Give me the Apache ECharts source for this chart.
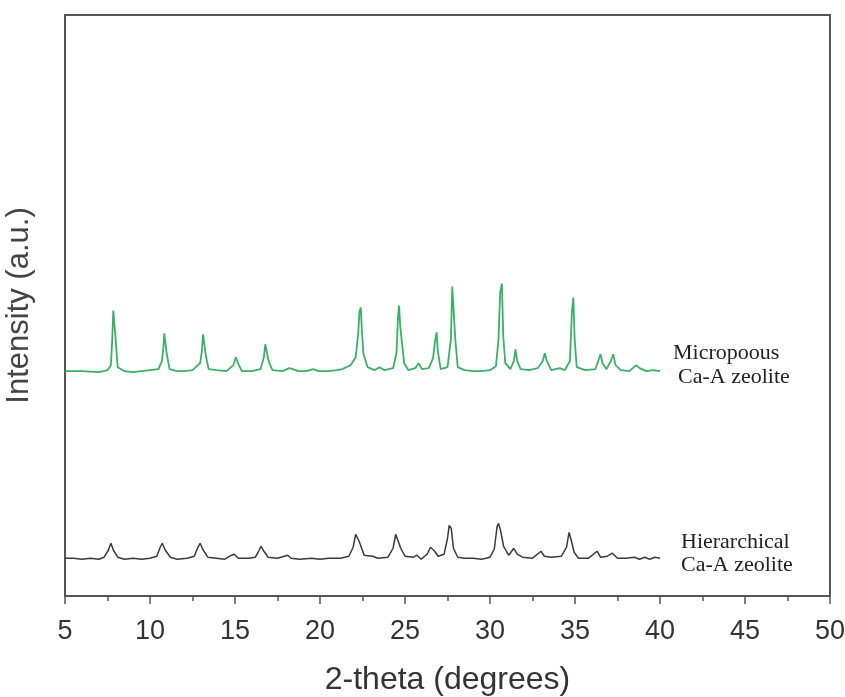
<!DOCTYPE html>
<html>
<head>
<meta charset="utf-8">
<script src="https://cdn.jsdelivr.net/npm/echarts@6/dist/echarts.min.js"></script>
<style>
  html, body { margin: 0; padding: 0; background: #fff; }
  #chart { width: 845px; height: 697px; }
</style>
</head>
<body>
<div id="chart"></div>
<script>
// x axis ticks (2-theta, degrees)
const xTicks = [5, 10, 15, 20, 25, 30, 35, 40, 45, 50]

// Micropoous Ca-A zeolite pattern, [2-theta, intensity a.u.] (offset upward)
const microData = [
  [5,230],[6,230],[7,229],[7.5,231],[7.7,236],[7.78,262],[7.84,291],[7.92,291],[7.98,262],[8.1,234],
  [8.5,230],[9,229],[9.5,230],[10,231],[10.5,232],[10.7,240],[10.78,252],[10.84,268],[10.92,268],[10.98,248],
  [11.15,232],[11.6,230],[12,230],[12.5,231],[12.95,238],[13.05,250],[13.12,267],[13.2,267],[13.28,246],[13.45,232],
  [13.9,231],[14.5,230],[14.9,236],[15.05,244],[15.2,237],[15.4,230],[16,230],[16.5,232],[16.7,244],[16.78,257],
  [16.88,255],[16.98,240],[17.2,231],[17.8,230],[18.2,233],[18.4,232],[18.7,230],[19.2,230],[19.6,232],[19.9,230],
  [20.5,230],[21,231],[21.3,232],[21.8,236],[22.1,244],[22.25,268],[22.32,290],[22.4,294],[22.46,272],[22.55,248],
  [22.8,234],[23.2,231],[23.5,234],[23.8,231],[24.3,233],[24.5,248],[24.58,282],[24.65,296],[24.72,275],[24.8,262],
  [24.88,262],[24.95,238],[25.2,231],[25.6,233],[25.8,238],[26,232],[26.4,233],[26.65,243],[26.78,262],[26.86,269],
  [26.93,250],[27.1,232],[27.5,234],[27.7,262],[27.78,315],[27.88,317],[27.96,262],[28.1,234],[28.5,231],[29,230],
  [29.5,230],[30,231],[30.35,235],[30.5,262],[30.6,310],[30.7,318],[30.78,265],[30.9,238],[31.2,232],[31.4,240],
  [31.5,252],[31.6,240],[31.8,232],[32.3,231],[32.8,233],[33.1,240],[33.22,248],[33.35,240],[33.6,231],[34.1,233],
  [34.4,231],[34.7,240],[34.82,290],[34.9,304],[34.98,262],[35.1,234],[35.6,231],[36.2,232],[36.4,242],[36.5,247],
  [36.62,238],[36.85,232],[37.1,240],[37.25,247],[37.38,236],[37.7,231],[38.2,230],[38.6,236],[38.8,233],[39.2,230],
  [39.6,231],[40,230]
]

// Hierarchical Ca-A zeolite pattern, [2-theta, intensity a.u.]
const hierData = [
  [5,42],[5.5,42],[6,41],[6.5,42],[7,41],[7.3,43],[7.55,50],[7.7,57],[7.85,50],[8.1,43],
  [8.5,41],[9,42],[9.5,41],[10,42],[10.4,44],[10.6,53],[10.72,57],[10.9,50],[11.2,43],[11.6,41],
  [12.2,42],[12.6,44],[12.82,53],[12.95,57],[13.1,51],[13.4,43],[13.9,42],[14.4,41],[14.8,45],[14.95,46],
  [15.2,42],[15.8,42],[16.2,43],[16.42,50],[16.53,54],[16.7,49],[16.95,43],[17.5,42],[18.1,45],[18.3,42],
  [18.8,41],[19.5,42],[20,41],[20.5,42],[21.2,42],[21.7,44],[21.95,53],[22.1,66],[22.18,68],[22.3,59],
  [22.6,45],[23.1,44],[23.4,42],[24,43],[24.3,52],[24.45,66],[24.55,67],[24.75,52],[25,44],[25.5,43],
  [25.7,45],[25.95,41],[26.3,46],[26.5,53],[26.6,55],[26.75,49],[26.95,44],[27.3,46],[27.5,62],[27.6,75],
  [27.72,72],[27.85,52],[28.1,43],[28.5,42],[29,42],[29.5,41],[30,43],[30.25,51],[30.42,74],[30.5,77],
  [30.62,70],[30.8,54],[31.1,45],[31.4,52],[31.6,46],[31.9,43],[32.5,42],[33,49],[33.2,44],[33.6,43],
  [34.2,44],[34.5,53],[34.65,68],[34.78,60],[34.95,48],[35.2,42],[35.8,42],[36.3,49],[36.5,43],[36.9,44],
  [37.2,47],[37.5,42],[38,42],[38.5,43],[38.8,41],[39.1,43],[39.4,41],[39.7,43],[40,42]
]

const chart = echarts.init(document.getElementById('chart'))

const labelFont = '"Liberation Serif", "DejaVu Serif", serif'
const axisFont = '"Liberation Sans", Arial, sans-serif'

chart.setOption({
  animation: false,
  grid: {
    left: 65, right: 15, top: 15, bottom: 101,
    outerBoundsMode: 'none',
    show: true, borderColor: '#555', borderWidth: 2, backgroundColor: 'transparent'
  },
  xAxis: {
    type: 'value',
    min: xTicks[0],
    max: xTicks[xTicks.length - 1],
    interval: 5,
    name: '2-theta (degrees)',
    nameLocation: 'middle',
    nameGap: 68,
    nameTextStyle: { fontSize: 32, color: '#333', fontFamily: axisFont },
    axisLine: { lineStyle: { color: '#555', width: 2 } },
    axisTick: { length: 8, lineStyle: { color: '#555', width: 1.5 } },
    minorTick: { show: true, splitNumber: 2, length: 5, lineStyle: { color: '#555', width: 1.5 } },
    axisLabel: { fontSize: 27, color: '#333', margin: 22, fontFamily: axisFont },
    splitLine: { show: false }
  },
  yAxis: {
    type: 'value',
    min: 4,
    max: 588,
    name: 'Intensity (a.u.)',
    nameLocation: 'middle',
    nameRotate: 90,
    nameGap: 30,
    nameTextStyle: { fontSize: 31, color: '#444', fontFamily: axisFont },
    axisLine: { show: true, lineStyle: { color: '#555', width: 2 } },
    axisTick: { show: false },
    axisLabel: { show: false },
    splitLine: { show: false }
  },
  series: [
    {
      name: 'Micropoous Ca-A zeolite',
      type: 'line',
      data: microData,
      showSymbol: false,
      lineStyle: { color: '#3bb067', width: 1.8 }
    },
    {
      name: 'Hierarchical Ca-A zeolite',
      type: 'line',
      data: hierData,
      showSymbol: false,
      lineStyle: { color: '#3a3a3a', width: 1.5 }
    }
  ],
  graphic: [
    { type: 'text', left: 673, top: 342, style: { text: 'Micropoous', font: '22px ' + labelFont, fill: '#222' } },
    { type: 'text', left: 678, top: 366, style: { text: 'Ca-A zeolite', font: '22px ' + labelFont, fill: '#222' } },
    { type: 'text', left: 681, top: 531, style: { text: 'Hierarchical', font: '22px ' + labelFont, fill: '#222' } },
    { type: 'text', left: 681, top: 554, style: { text: 'Ca-A zeolite', font: '22px ' + labelFont, fill: '#222' } }
  ]
})

window.addEventListener('resize', () => chart.resize())
</script>
</body>
</html>
